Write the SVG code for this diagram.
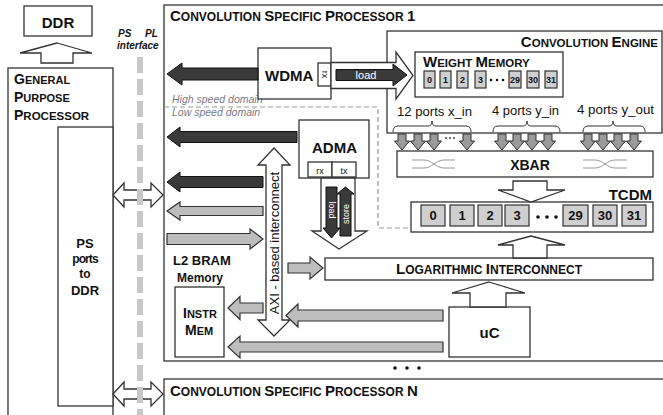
<svg xmlns="http://www.w3.org/2000/svg" xmlns:xlink="http://www.w3.org/1999/xlink" width="663" height="415" viewBox="0 0 663 415">
<style>
.box{fill:#fff;stroke:#333;stroke-width:1.3}
.hollow{fill:#fff;stroke:#333;stroke-width:1.3;stroke-linejoin:miter}
.dark{fill:#3a3a3a;stroke:#111;stroke-width:1}
.lite{fill:#bdbdbd;stroke:#333;stroke-width:1.2}
.port{fill:#9a9a9a;stroke:#333;stroke-width:1}
.cell{fill:#cfcfcf;stroke:#333;stroke-width:1.2}
.b{font-family:"Liberation Sans",Arial,sans-serif;font-weight:bold;fill:#111}
.r{font-family:"Liberation Sans",Arial,sans-serif;fill:#111}
.dom{font-family:"Liberation Sans",Arial,sans-serif;font-style:italic;fill:#7a7a86;font-size:10.5px}
.dash{fill:none;stroke:#999;stroke-width:1.2;stroke-dasharray:5 3}
.wt{font-family:"Liberation Sans",Arial,sans-serif;fill:#fff}
.mid{text-anchor:middle}
.xb{fill:none;stroke:#999;stroke-width:1}
.br{fill:none;stroke:#333;stroke-width:1}
</style>
<defs>
<path id="parr" class="port" d="M-4,134 L4,134 L4,141 L7.5,141 L0,150 L-7.5,141 L-4,141 Z"/>
</defs>

<!-- DDR -->
<g id="ddr">
<rect class="box" x="24" y="6" width="68" height="30"/>
<text class="b mid" x="58" y="28" font-size="15">DDR</text>
</g>

<!-- GPP -->
<g id="gpp">
<rect class="box" x="8" y="68" width="105" height="360"/>
<text class="b" x="14" y="84"><tspan font-size="14">G</tspan><tspan font-size="11">ENERAL</tspan></text>
<text class="b" x="14" y="102"><tspan font-size="14">P</tspan><tspan font-size="11">URPOSE</tspan></text>
<text class="b" x="14" y="120"><tspan font-size="14">P</tspan><tspan font-size="11.5">ROCESSOR</tspan></text>
</g>
<g id="psports">
<rect class="box" x="58" y="127" width="55" height="279"/>
<text class="b mid" x="85" y="248" font-size="13">PS</text>
<text class="b mid" x="85" y="263" font-size="12" letter-spacing="-0.9">ports</text>
<text class="b mid" x="85" y="278" font-size="12">to</text>
<text class="b mid" x="85" y="295" font-size="13">DDR</text>
</g>

<!-- PS PL interface -->
<g id="interface">
<text class="b" x="118" y="37" font-size="10" font-style="italic" fill="#1c2440">PS</text>
<text class="b" x="145" y="37" font-size="10" font-style="italic" fill="#1c2440">PL</text>
<text class="b" x="117" y="49" font-size="10" font-style="italic" fill="#1c2440">interface</text>
</g>

<!-- CSP 1 -->
<g id="csp1">
<rect class="box" x="164" y="5" width="510" height="356"/>
<text class="b" x="170" y="21"><tspan font-size="15">C</tspan><tspan font-size="12">ONVOLUTION </tspan><tspan font-size="15">S</tspan><tspan font-size="12">PECIFIC </tspan><tspan font-size="15">P</tspan><tspan font-size="12">ROCESSOR </tspan><tspan font-size="15">1</tspan></text>
</g>

<!-- CSP N -->
<g id="cspn">
<rect class="box" x="164" y="379" width="510" height="60"/>
<text class="b" x="170" y="396"><tspan font-size="15">C</tspan><tspan font-size="12">ONVOLUTION </tspan><tspan font-size="15">S</tspan><tspan font-size="12">PECIFIC </tspan><tspan font-size="15">P</tspan><tspan font-size="12">ROCESSOR </tspan><tspan font-size="15">N</tspan></text>
</g>
<g id="dots">
<circle cx="395" cy="368" r="1.8" fill="#111"/>
<circle cx="407" cy="368" r="1.8" fill="#111"/>
<circle cx="419" cy="368" r="1.8" fill="#111"/>
</g>

<!-- domain lines -->
<g id="domains">
<path class="dash" d="M164,107 L378,107 L378,228 L411,228"/>
<text class="dom" x="172" y="103">High speed domain</text>
<text class="dom" x="172" y="116">Low speed domain</text>
</g>

<!-- Convolution engine -->
<g id="engine">
<rect class="box" x="387" y="31" width="275" height="102"/>
<text class="b" x="658" y="47" text-anchor="end"><tspan font-size="15">C</tspan><tspan font-size="11.5">ONVOLUTION </tspan><tspan font-size="15">E</tspan><tspan font-size="11.5">NGINE</tspan></text>
<text class="r" x="397" y="116" font-size="13" textLength="75" lengthAdjust="spacingAndGlyphs">12 ports x_in</text>
<text class="r" x="492" y="115" font-size="13" textLength="67" lengthAdjust="spacingAndGlyphs">4 ports y_in</text>
<text class="r" x="577" y="114" font-size="13" textLength="77" lengthAdjust="spacingAndGlyphs">4 ports y_out</text>
<path class="br" d="M393,132 Q393,126 398,126 L428,126 Q432,126 432,121 Q432,126 436,126 L466,126 Q471,126 471,132"/>
<path class="br" d="M493,132 Q493,126 498,126 L523,126 Q527,126 527,121 Q527,126 531,126 L555,126 Q560,126 560,132"/>
<path class="br" d="M583,132 Q583,126 588,126 L609,126 Q613,126 613,121 Q613,126 617,126 L640,126 Q645,126 645,132"/>
</g>

<!-- Weight memory -->
<g id="weightmem">
<rect class="box" x="415" y="52" width="148" height="45"/>
<text class="b" x="423" y="67"><tspan font-size="15">W</tspan><tspan font-size="11.5">EIGHT </tspan><tspan font-size="15">M</tspan><tspan font-size="11.5">EMORY</tspan></text>
<rect class="cell" x="424" y="71" width="11" height="17"/>
<rect class="cell" x="440" y="71" width="11" height="17"/>
<rect class="cell" x="457" y="71" width="11" height="17"/>
<rect class="cell" x="475" y="71" width="11" height="17"/>
<rect class="cell" x="509" y="71" width="12" height="17"/>
<rect class="cell" x="527" y="71" width="12" height="17"/>
<rect class="cell" x="545" y="71" width="12" height="17"/>
<g class="b mid" font-size="9">
<text x="429.5" y="83">0</text><text x="445.5" y="83">1</text><text x="462.5" y="83">2</text><text x="480.5" y="83">3</text>
<text x="515" y="83" textLength="10" lengthAdjust="spacingAndGlyphs">29</text><text x="533" y="83" textLength="10" lengthAdjust="spacingAndGlyphs">30</text><text x="551" y="83" textLength="10" lengthAdjust="spacingAndGlyphs">31</text>
</g>
<circle cx="491" cy="80" r="1.3" fill="#111"/><circle cx="497" cy="80" r="1.3" fill="#111"/><circle cx="503" cy="80" r="1.3" fill="#111"/>
</g>

<!-- WDMA -->
<g id="wdma">
<rect class="box" x="258" y="48" width="73" height="51"/>
<text class="b" x="265" y="81" font-size="15">WDMA</text>
<rect class="box" x="318" y="63" width="13" height="23"/>
<text class="r mid" font-size="9" transform="translate(324.5,74.5) rotate(90)" y="3">rx</text>
</g>

<!-- ADMA -->
<g id="adma">
<rect class="box" x="299" y="120" width="70" height="58"/>
<text class="b" x="312" y="153" font-size="15">ADMA</text>
<rect class="box" x="308" y="162" width="24" height="15"/>
<rect class="box" x="332" y="162" width="24" height="15"/>
<text class="r mid" x="320" y="174" font-size="9">rx</text>
<text class="r mid" x="344" y="174" font-size="9">tx</text>
</g>

<!-- XBAR -->
<g id="xbar">
<rect class="box" x="397" y="151" width="256" height="26"/>
<path class="xb" d="M412,160 L424,160 C432,160 436,168 444,168 L455,168 M412,168 L424,168 C432,168 436,160 444,160 L455,160"/>
<path class="xb" d="M583,160 L595,160 C603,160 607,168 615,168 L627,168 M583,168 L595,168 C603,168 607,160 615,160 L627,160"/>
<text class="b mid" x="530" y="170" font-size="14">XBAR</text>
</g>

<!-- TCDM -->
<g id="tcdm">
<text class="b" x="652" y="200" font-size="15" text-anchor="end">TCDM</text>
<rect class="box" x="411" y="202" width="242" height="30"/>
<rect class="cell" x="421" y="205" width="24" height="21"/>
<rect class="cell" x="450" y="205" width="24" height="21"/>
<rect class="cell" x="478" y="205" width="24" height="21"/>
<rect class="cell" x="505" y="205" width="24" height="21"/>
<rect class="cell" x="563" y="205" width="25" height="21"/>
<rect class="cell" x="593" y="205" width="24" height="21"/>
<rect class="cell" x="622" y="205" width="24" height="21"/>
<g class="b mid" font-size="13">
<text x="433" y="220">0</text><text x="462" y="220">1</text><text x="490" y="220">2</text><text x="517" y="220">3</text>
<text x="575.5" y="220">29</text><text x="605" y="220">30</text><text x="634" y="220">31</text>
</g>
<circle cx="538" cy="217" r="1.8" fill="#111"/><circle cx="547" cy="217" r="1.8" fill="#111"/><circle cx="556" cy="217" r="1.8" fill="#111"/>
</g>

<!-- Logarithmic interconnect -->
<g id="logint">
<rect class="box" x="325" y="258" width="328" height="22"/>
<text class="b" x="396" y="274"><tspan font-size="15">L</tspan><tspan font-size="12">OGARITHMIC </tspan><tspan font-size="15">I</tspan><tspan font-size="12">NTERCONNECT</tspan></text>
</g>

<!-- L2 BRAM / Instr mem -->
<g id="l2bram">
<text class="b" x="173" y="265" font-size="13">L2 BRAM</text>
<text class="b" x="177" y="282" font-size="12">Memory</text>
</g>
<g id="instrmem">
<rect class="box" x="175" y="287" width="49" height="70"/>
<text class="b" x="183" y="318"><tspan font-size="14">I</tspan><tspan font-size="11">NSTR</tspan></text>
<text class="b" x="185" y="335"><tspan font-size="14">M</tspan><tspan font-size="11">EM</tspan></text>
</g>

<!-- uC -->
<g id="uc">
<rect class="box" x="449" y="307" width="81" height="50"/>
<text class="b mid" x="489.5" y="338" font-size="15">uC</text>
</g>

<!-- connectors -->
<g id="connectors">
<polygon class="hollow" points="57,43 92,53 73,53 73,63 41,63 41,53 20,53"/>
<polygon class="hollow" points="113,195 124,183 124,190 151,190 151,183 163,195 151,207 151,200 124,200 124,207"/>
<polygon class="hollow" points="113,394 124,382 124,389 151,389 151,382 163,394 151,406 151,399 124,399 124,406"/>

<polygon class="dark" points="167,74 182,63 182,68 258,68 258,80 182,80 182,85"/>
<polygon class="dark" points="167,137 180,127 180,131.5 297,131.5 297,142.5 180,142.5 180,147"/>
<polygon class="dark" points="167,182 180,172 180,176.5 263,176.5 263,187.5 180,187.5 180,192"/>
<polygon class="lite" points="167,211 180,202 180,206.5 263,206.5 263,215.5 180,215.5 180,220"/>
<polygon class="lite" points="167,233.5 250,233.5 250,229 263,239 250,249 250,244.5 167,244.5"/>

<polygon class="hollow" points="331,62.5 396,62.5 396,52 413,75.5 396,99 396,88.5 331,88.5"/>
<polygon class="dark" points="336,69.5 393,69.5 393,64 407,75 393,86 393,80.5 336,80.5"/>
<text class="wt mid" x="366" y="79" font-size="11">load</text>

<polygon class="hollow" points="274,148 290,165 282,165 282,320 290,320 274,336 258,320 266,320 266,165 258,165"/>
<text class="r mid" font-size="13" transform="translate(274,243) rotate(-90)" y="4.5">AXI - based interconnect</text>

<polygon class="hollow" points="321,178 355,178 355,231 367,231 339,249 312,231 321,231"/>
<polygon class="dark" points="326,187 337,187 337,228 340,228 331.5,238 323,228 326,228"/>
<polygon class="dark" points="345.5,187 354,194 351,194 351,236 340,236 340,194 337,194"/>
<text class="wt mid" font-size="9" transform="translate(331.5,210) rotate(90)" y="3">load</text>
<text class="wt mid" font-size="9" transform="translate(345.5,214) rotate(-90)" y="3">store</text>

<polygon class="lite" points="288,263 310,263 310,257 323,268 310,279 310,273 288,273"/>
<polygon class="lite" points="228,308 240,296.5 240,303 263,303 263,313 240,313 240,319.5"/>
<polygon class="lite" points="286,315.5 298,304 298,310 443,310 443,321 298,321 298,327"/>
<polygon class="lite" points="228,347 240,336 240,342 443,342 443,352 240,352 240,358"/>

<use xlink:href="#parr" x="402"/><use xlink:href="#parr" x="418"/><use xlink:href="#parr" x="434"/><use xlink:href="#parr" x="467"/>
<circle cx="446" cy="138" r="0.9" fill="#333"/><circle cx="450" cy="138" r="0.9" fill="#333"/><circle cx="454" cy="138" r="0.9" fill="#333"/>
<use xlink:href="#parr" x="502"/><use xlink:href="#parr" x="517"/><use xlink:href="#parr" x="532"/><use xlink:href="#parr" x="548"/>
<use xlink:href="#parr" x="588"/><use xlink:href="#parr" x="603"/><use xlink:href="#parr" x="618"/><use xlink:href="#parr" x="634"/>

<polygon class="hollow" points="513,181 547,181 547,190 565,190 531,202 498,190 513,190"/>
<polygon class="hollow" points="531,236 565,245 547,245 547,258 513,258 513,245 498,245"/>
<polygon class="hollow" points="489,282 525,293 506,293 506,307 470,307 470,293 452,293"/>
</g>

<!-- PS/PL boundary -->
<line x1="140" y1="57" x2="140" y2="415" stroke="#c8c8c8" stroke-width="6" stroke-dasharray="16 6"/>
</svg>
